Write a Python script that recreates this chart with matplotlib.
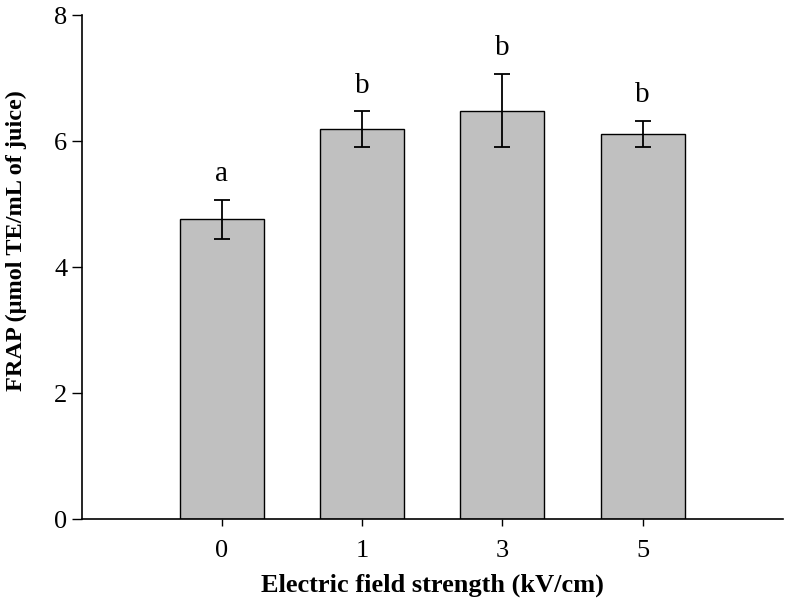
import numpy as np
import matplotlib.pyplot as plt

plt.rcParams['font.family'] = ['Liberation Serif', 'DejaVu Serif']

field = ['0', '1', '3', '5']
frap = [4.76, 6.19, 6.48, 6.11]
err = [0.31, 0.28, 0.58, 0.205]
letters = ['a', 'b', 'b', 'b']

fig = plt.figure(figsize=(7.86, 6.03), dpi=100)
ax = fig.add_axes([0.104, 0.139, 0.892, 0.836])

x = np.arange(len(field))
ax.bar(x, frap, width=0.6, color='#c0c0c0', edgecolor='black', linewidth=1.0,
       yerr=err, error_kw=dict(ecolor='black', elinewidth=1.3, capsize=5.5, capthick=1.3))

for xi, v, e, lab in zip(x, frap, err, letters):
    ax.text(xi, v + e + 0.3, lab, ha='center', va='baseline', fontsize=21)

ax.set_xlim(-1, 4)
ax.set_ylim(0, 8)
ax.set_xticks(x)
ax.set_xticklabels(field)
ax.set_yticks([0, 2, 4, 6, 8])
ax.tick_params(axis='both', labelsize=19, direction='out', length=7, width=1)
ax.tick_params(axis='x', length=5, pad=10)
ax.spines['top'].set_visible(False)
ax.spines['right'].set_visible(False)
ax.spines['left'].set_linewidth(1.2)
ax.spines['bottom'].set_linewidth(1.2)

ax.set_xlabel('Electric field strength (kV/cm)', fontsize=19, fontweight='bold', labelpad=8)
ax.set_ylabel('FRAP (μmol TE/mL of juice)', fontsize=17.5, fontweight='bold')
ax.yaxis.set_label_coords(-0.078, 0.553)

fig.savefig('out.png', dpi=100)
